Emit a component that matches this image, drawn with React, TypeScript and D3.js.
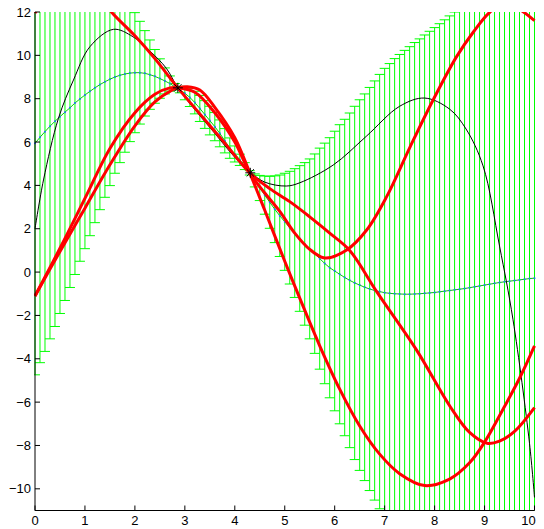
import { range, scaleLinear, line, curveCatmullRom, curveLinear } from "d3";

// grid of the error bars: 0 .. 10 step 0.1
const xs = range(0, 101).map((i) => i / 10);

// predictive mean
const meanVals = [
  5.94, 6.22, 6.48, 6.73, 6.96, 7.17, 7.38, 7.58, 7.8, 7.99,
  8.17, 8.34, 8.5, 8.65, 8.78, 8.9, 9.0, 9.08, 9.14, 9.18,
  9.2, 9.2, 9.17, 9.11, 9.03, 8.93, 8.82, 8.7, 8.55, 8.42,
  8.25, 8.06, 7.82, 7.55, 7.27, 6.99, 6.71, 6.4, 6.06, 5.72,
  5.45, 5.18, 4.89, 4.58, 4.23, 3.88, 3.55, 3.22, 2.9, 2.6,
  2.32, 2.05, 1.8, 1.55, 1.3, 1.07, 0.85, 0.62, 0.4, 0.2,
  0.05, -0.1, -0.25, -0.38, -0.5, -0.6, -0.7, -0.78, -0.85, -0.9,
  -0.95, -0.98, -1.0, -1.01, -1.02, -1.02, -1.01, -1.0, -0.98, -0.96,
  -0.94, -0.91, -0.88, -0.85, -0.82, -0.79, -0.76, -0.72, -0.68, -0.64,
  -0.6, -0.56, -0.52, -0.48, -0.45, -0.42, -0.39, -0.36, -0.33, -0.3,
  -0.28,
];

// half height of each error bar
const errVals = [
  10.68, 10.4, 10.14, 9.81, 9.47, 9.08, 8.69, 8.29, 7.91, 7.49,
  7.09, 6.66, 6.22, 5.77, 5.33, 4.91, 4.44, 4.03, 3.61, 3.16,
  2.77, 2.37, 1.97, 1.6, 1.24, 0.91, 0.6, 0.35, 0.15, 0.15,
  0.3, 0.42, 0.52, 0.6, 0.64, 0.66, 0.65, 0.62, 0.56, 0.47,
  0.37, 0.26, 0.16, 0.1, 0.3, 0.58, 0.88, 1.2, 1.54, 1.88,
  2.24, 2.6, 2.97, 3.36, 3.75, 4.15, 4.6, 5.1, 5.55, 6.0,
  6.45, 6.9, 7.3, 7.72, 8.15, 8.55, 8.92, 9.3, 9.67, 10.02,
  10.35, 10.6, 10.85, 11.05, 11.25, 11.42, 11.6, 11.76, 11.92, 12.07,
  12.22, 12.37, 12.52, 12.67, 12.82, 12.95, 13.06, 13.16, 13.25, 13.33,
  13.4, 13.46, 13.51, 13.55, 13.59, 13.62, 13.65, 13.67, 13.69, 13.7,
  13.71,
];

// underlying function (thin black)
const trueX = [0, 0.17, 0.47, 0.77, 1.1, 1.57, 1.96, 2.3, 2.63, 2.86, 3.2, 3.6, 4.0, 4.32, 4.6, 5.03, 5.3, 5.97, 6.63, 7.3, 7.8, 8.3, 8.63, 8.97, 9.3, 9.57, 9.9, 10];
const trueY = [2.0, 4.25, 7.1, 8.86, 10.4, 11.2, 10.86, 10.2, 9.4, 8.5, 7.5, 6.4, 5.3, 4.59, 4.15, 3.97, 4.12, 4.94, 6.26, 7.65, 8.03, 7.52, 6.6, 4.9, 1.2, -2.2, -7.9, -10.4];

// posterior samples (thick red)
const sampleAX = [0, 0.3, 0.8, 1.2, 1.53, 2.0, 2.4, 2.86, 3.3, 3.8, 4.3, 4.7, 5.1, 5.5, 5.9, 6.3, 6.84, 7.64, 8.31, 8.7, 9.05, 9.3, 9.6, 10];
const sampleAY = [11.95, 12.9, 13.4, 13.0, 12.0, 10.9, 9.85, 8.5, 7.3, 5.95, 4.58, 3.85, 3.25, 2.55, 1.8, 1.0, -0.9, -3.6, -6.2, -7.4, -7.9, -7.8, -7.35, -6.25];

const sampleBX = [0, 0.5, 1.0, 1.5, 2.0, 2.4, 2.7, 2.86, 3.2, 3.6, 4.0, 4.3, 4.6, 4.9, 5.2, 5.5, 5.8, 6.24, 6.64, 7.04, 7.51, 7.97, 8.44, 8.78, 9.11, 9.45, 9.78, 10];
const sampleBY = [-1.1, 1.1, 3.4, 5.7, 7.35, 8.2, 8.5, 8.5, 8.3, 7.35, 6.0, 4.58, 3.65, 2.8, 1.8, 1.05, 0.65, 1.02, 1.94, 3.48, 5.78, 7.94, 9.94, 11.09, 12.0, 12.45, 12.0, 11.6];

const sampleCX = [0, 0.5, 1.0, 1.5, 2.0, 2.4, 2.75, 2.86, 3.05, 3.3, 3.6, 4.0, 4.3, 4.6, 5.0, 5.3, 5.7, 6.1, 6.5, 6.9, 7.3, 7.8, 8.3, 8.7, 9.0, 9.4, 9.7, 10];
const sampleCY = [-1.1, 0.95, 2.95, 4.95, 6.75, 7.85, 8.4, 8.5, 8.55, 8.4, 7.6, 6.2, 4.58, 2.85, 0.5, -1.2, -3.4, -5.4, -7.1, -8.4, -9.3, -9.85, -9.55, -8.8, -7.85, -6.2, -4.9, -3.4];

// training points
const trainX = [2.86, 4.31];
const trainY = [8.5, 4.58];

const xTicks = [0, 1, 2, 3, 4, 5, 6, 7, 8, 9, 10];
const yTicks = [-10, -8, -6, -4, -2, 0, 2, 4, 6, 8, 10, 12];

const W = 544;
const H = 529;
const x = scaleLinear().domain([0, 10]).range([35, 534.5]);
const y = scaleLinear().domain([-11, 12]).range([510.5, 12]);
const tee = 0.1;

const fmt = (v: number) => (v < 0 ? "\u2212" + Math.abs(v) : String(v));

export default function App() {
  const pts = (xa: number[], ya: number[]) => xa.map((v, i) => [v, ya[i]] as [number, number]);
  const smooth = line<[number, number]>()
    .x((d) => x(d[0]))
    .y((d) => y(d[1]))
    .curve(curveCatmullRom.alpha(0.5));
  const straight = line<[number, number]>()
    .x((d) => x(d[0]))
    .y((d) => y(d[1]))
    .curve(curveLinear);

  const samples = [
    pts(sampleAX, sampleAY),
    pts(sampleBX, sampleBY),
    pts(sampleCX, sampleCY),
  ];
  const meanPts = pts(xs, meanVals);

  return (
    <div style={{ position: "absolute", left: 0, top: 0 }}>
      <svg width={W} height={H} style={{ display: "block", background: "#fff" }}>
        <defs>
          <clipPath id="plot">
            <rect x={34} y={y(12)} width={502} height={y(-11) - y(12)} />
          </clipPath>
        </defs>
        <g clipPath="url(#plot)">
          {xs.map((xv, i) => {
            const lo = meanVals[i] - errVals[i];
            const hi = meanVals[i] + errVals[i];
            return (
              <g key={i} stroke="#00ff00" strokeWidth={1} fill="none">
                <line x1={x(xv)} x2={x(xv)} y1={y(lo)} y2={y(hi)} />
                <line x1={x(xv - tee)} x2={x(xv + tee)} y1={y(lo)} y2={y(lo)} />
                <line x1={x(xv - tee)} x2={x(xv + tee)} y1={y(hi)} y2={y(hi)} />
              </g>
            );
          })}
          <path d={straight(meanPts) ?? ""} fill="none" stroke="#00d000" strokeWidth={1} />
          {meanPts.map((d, i) => (
            <circle key={i} cx={x(d[0])} cy={y(d[1])} r={1} fill="#2a6cff" />
          ))}
          <path d={smooth(pts(trueX, trueY)) ?? ""} fill="none" stroke="#000" strokeWidth={1} />
          {samples.map((s, i) => (
            <path key={i} d={smooth(s) ?? ""} fill="none" stroke="#ff0000" strokeWidth={3} />
          ))}
        </g>
        {trainX.map((tx, i) => {
          const cx = x(tx);
          const cy = y(trainY[i]);
          const r = 5;
          const d = 3.6;
          return (
            <g key={i} stroke="#000" strokeWidth={1}>
              <line x1={cx - r} x2={cx + r} y1={cy} y2={cy} />
              <line x1={cx} x2={cx} y1={cy - r} y2={cy + r} />
              <line x1={cx - d} x2={cx + d} y1={cy - d} y2={cy + d} />
              <line x1={cx - d} x2={cx + d} y1={cy + d} y2={cy - d} />
            </g>
          );
        })}
        <g stroke="#000" strokeWidth={1}>
          <line x1={35} x2={35} y1={y(12)} y2={y(-11)} />
          <line x1={35} x2={x(10)} y1={y(-11)} y2={y(-11)} />
          {yTicks.map((t) => (
            <line key={t} x1={35} x2={40} y1={y(t)} y2={y(t)} />
          ))}
          {xTicks.map((t) => (
            <line key={t} x1={x(t)} x2={x(t)} y1={y(-11)} y2={y(-11) - 5} />
          ))}
        </g>
        <g fontFamily="'Liberation Sans', Arial, sans-serif" fontSize={13} fill="#000">
          {yTicks.map((t) => (
            <text key={t} x={31} y={y(t) + 4.5} textAnchor="end">
              {fmt(t)}
            </text>
          ))}
          {xTicks.map((t) => (
            <text key={t} x={t === 10 ? x(t) - 6 : x(t)} y={525} textAnchor="middle">
              {fmt(t)}
            </text>
          ))}
        </g>
      </svg>
    </div>
  );
}
